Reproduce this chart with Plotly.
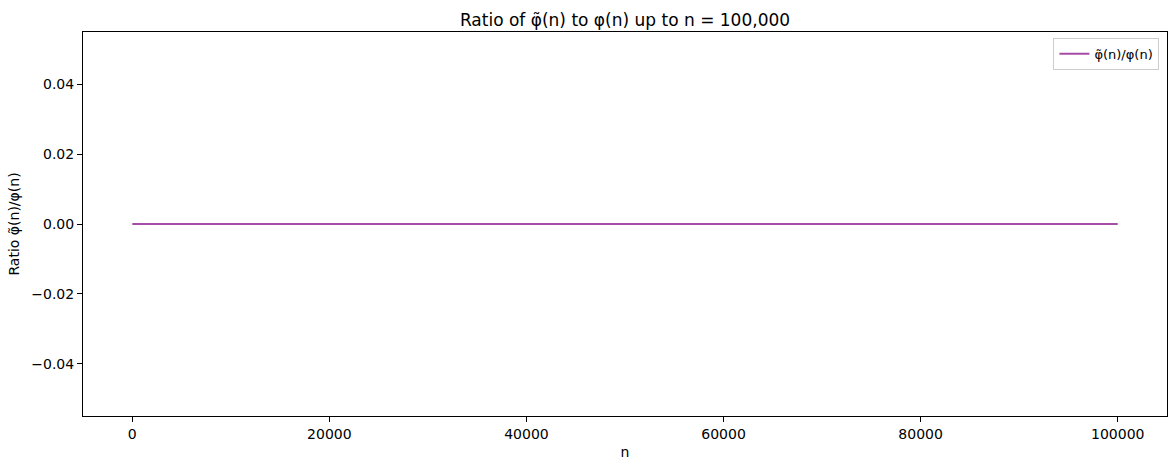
import plotly.graph_objects as go

# data: the ratio is flat at zero over the whole range
n_values = [1, 100000]
ratio_values = [0.0, 0.0]

x_ticks = [0, 20000, 40000, 60000, 80000, 100000]
y_ticks = [-0.04, -0.02, 0.00, 0.02, 0.04]

font = "DejaVu Sans, Arial, sans-serif"

fig = go.Figure()
fig.add_trace(
    go.Scatter(
        x=n_values,
        y=ratio_values,
        mode="lines",
        name="φ̃(n)/φ(n)",
        line=dict(color="rgba(128,0,128,0.7)", width=2),
    )
)

axis_common = dict(
    showgrid=False,
    zeroline=False,
    showline=True,
    linecolor="black",
    linewidth=1,
    mirror=True,
    ticks="outside",
    ticklen=5,
    tickwidth=1,
    tickcolor="black",
    automargin=False,
    tickfont=dict(family=font, size=14, color="black"),
)

fig.update_layout(
    width=1176,
    height=470,
    paper_bgcolor="white",
    plot_bgcolor="white",
    margin=dict(l=83, r=9, t=32, b=54),
    font=dict(family=font, color="black"),
    title=dict(
        text="Ratio of φ̃(n) to φ(n) up to n = 100,000",
        x=0.5,
        xref="paper",
        xanchor="center",
        y=1,
        yref="paper",
        yanchor="bottom",
        automargin=False,
        pad=dict(b=6),
        font=dict(family=font, size=17, color="black"),
    ),
    xaxis=dict(
        axis_common,
        range=[-4999.95, 104999.95],
        tickvals=x_ticks,
        tickformat="d",
        title=dict(text="n", font=dict(family=font, size=14), standoff=6),
    ),
    yaxis=dict(
        axis_common,
        range=[-0.055, 0.055],
        tickvals=y_ticks,
        tickformat=".2f",
        title=dict(text="Ratio φ̃(n)/φ(n)", font=dict(family=font, size=14), standoff=8),
    ),
    showlegend=True,
    legend=dict(
        x=0.993,
        y=0.985,
        xanchor="right",
        yanchor="top",
        bgcolor="rgba(255,255,255,0.8)",
        bordercolor="#cccccc",
        borderwidth=1,
        tracegroupgap=0,
        font=dict(family=font, size=13, color="black"),
    ),
)

# drop the default page margin so the figure sits at the window's corner
fig.write_html(
    "out.html",
    config={"displayModeBar": False},
    post_script="document.body.style.margin='0';document.body.style.overflow='hidden';",
)
